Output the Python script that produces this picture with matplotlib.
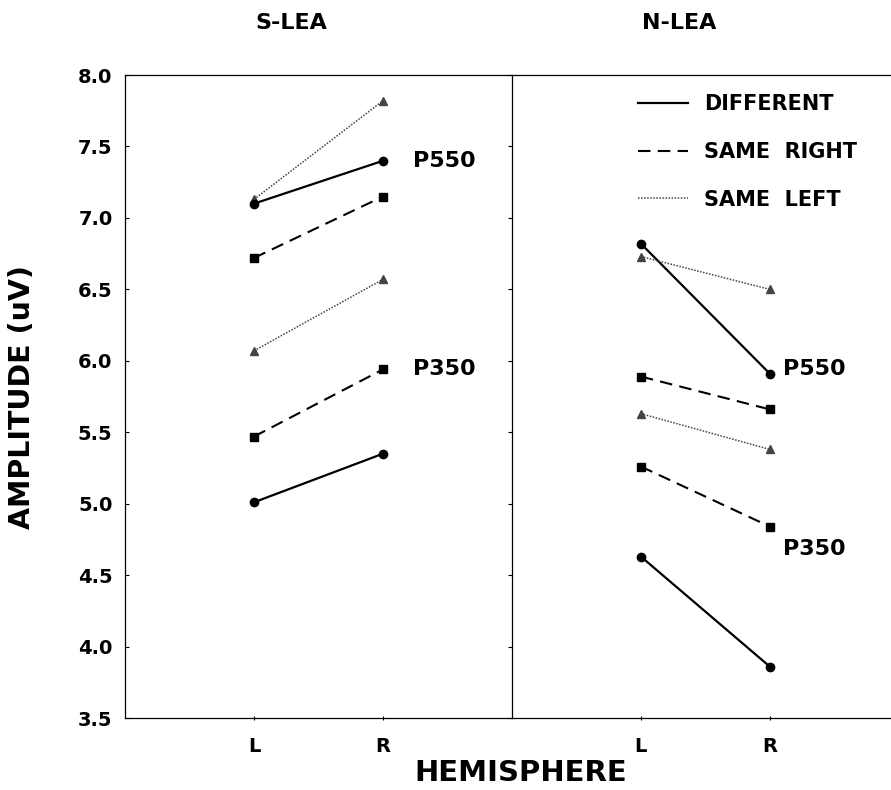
import matplotlib.pyplot as plt

# hemisphere positions
hemi = ["L", "R"]
xpos = [1, 2]

# S-LEA amplitudes (L, R)
s_diff_550 = [7.10, 7.40]
s_right_550 = [6.72, 7.15]
s_left_550 = [7.13, 7.82]
s_diff_350 = [5.01, 5.35]
s_right_350 = [5.47, 5.94]
s_left_350 = [6.07, 6.57]

# N-LEA amplitudes (L, R)
n_diff_550 = [6.82, 5.91]
n_right_550 = [5.89, 5.66]
n_left_550 = [6.73, 6.50]
n_diff_350 = [4.63, 3.86]
n_right_350 = [5.26, 4.84]
n_left_350 = [5.63, 5.38]

yticks = [3.5, 4.0, 4.5, 5.0, 5.5, 6.0, 6.5, 7.0, 7.5, 8.0]

plt.rcParams['font.family'] = ['DejaVu Sans']
plt.rcParams['font.weight'] = 'bold'

fig = plt.figure(figsize=(8.91, 7.9), dpi=100)
ax1 = fig.add_axes([0.1403, 0.0911, 0.4343, 0.8139])
ax2 = fig.add_axes([0.5746, 0.0911, 0.4254, 0.8139], sharey=ax1)

diff_kw = dict(color="black", lw=1.6, ls="-", marker="o", ms=6)
right_kw = dict(color="black", lw=1.5, ls=(0, (6, 3.5)), marker="s", ms=5.5)
left_kw = dict(color="#444444", lw=1.1, ls=(0, (1, 1)), marker="^", ms=5.5)

ax1.plot(xpos, s_left_550, **left_kw)
ax1.plot(xpos, s_diff_550, **diff_kw)
ax1.plot(xpos, s_right_550, **right_kw)
ax1.plot(xpos, s_left_350, **left_kw)
ax1.plot(xpos, s_right_350, **right_kw)
ax1.plot(xpos, s_diff_350, **diff_kw)

ax2.plot(xpos, n_diff_550, label="DIFFERENT", **diff_kw)
ax2.plot(xpos, n_right_550, label="SAME  RIGHT", **right_kw)
ax2.plot(xpos, n_left_550, label="SAME  LEFT", **left_kw)
ax2.plot(xpos, n_left_350, **left_kw)
ax2.plot(xpos, n_right_350, **right_kw)
ax2.plot(xpos, n_diff_350, **diff_kw)

ax1.set_xlim(0, 3)
ax2.set_xlim(0, 2.94)
ax1.set_ylim(3.5, 8.0)

for ax in (ax1, ax2):
    ax.set_xticks(xpos)
    ax.set_xticklabels(hemi, fontsize=14, fontweight="bold")
    ax.tick_params(axis="x", length=3, direction="inout", pad=12)
    for s in ax.spines.values():
        s.set_linewidth(0.9)
    ax.spines["right"].set_visible(False)

ax1.set_yticks(yticks)
ax1.set_yticklabels([f"{v:.1f}" for v in yticks], fontsize=14, fontweight="bold")
ax1.tick_params(axis="y", length=3, direction="in", pad=9)
ax2.tick_params(axis="y", length=3, direction="out", labelleft=False)

ax1.set_title("S-LEA", fontsize=16, fontweight="bold", x=0.43, pad=33)
ax2.set_title("N-LEA", fontsize=16, fontweight="bold", x=0.44, pad=33)
ax1.set_ylabel("AMPLITUDE (uV)", fontsize=20.5, fontweight="bold", labelpad=30)
fig.text(0.584, 0.012, "HEMISPHERE", fontsize=21, fontweight="bold", ha="center")

ax1.text(2.23, 7.40, "P550", fontsize=16, fontweight="bold", va="center")
ax1.text(2.23, 5.94, "P350", fontsize=16, fontweight="bold", va="center")
ax2.text(2.1, 5.94, "P550", fontsize=16, fontweight="bold", va="center")
ax2.text(2.1, 4.68, "P350", fontsize=16, fontweight="bold", va="center")

leg = ax2.legend(loc="upper left", bbox_to_anchor=(0.332, 0.970), frameon=False,
                 borderaxespad=0, borderpad=0,
                 handlelength=2.4, labelspacing=1.33, handletextpad=0.8,
                 prop=dict(weight="bold", size=15))
for h in leg.legend_handles:
    h.set_marker("")

fig.savefig("out.png", dpi=100)
